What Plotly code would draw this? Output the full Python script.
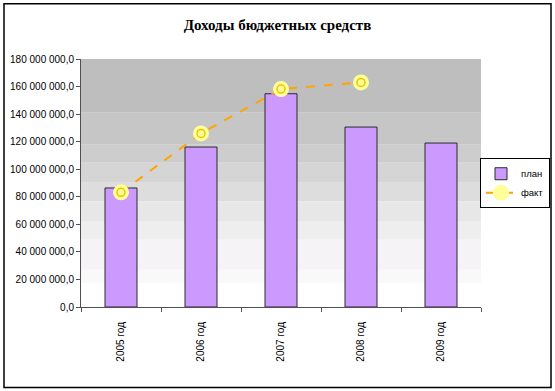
import plotly.graph_objects as go

categories = ["2005 год", "2006 год", "2007 год", "2008 год", "2009 год"]
plan = [86400000, 116100000, 154800000, 130600000, 119000000]
fact_categories = ["2005 год", "2006 год", "2007 год", "2008 год"]
fact = [83200000, 126000000, 158200000, 163000000]
ytick_vals = [0, 20000000, 40000000, 60000000, 80000000, 100000000, 120000000, 140000000, 160000000, 180000000]
ytick_text = ["0,0", "20 000 000,0", "40 000 000,0", "60 000 000,0", "80 000 000,0",
              "100 000 000,0", "120 000 000,0", "140 000 000,0", "160 000 000,0", "180 000 000,0"]

fig = go.Figure()
fig.add_trace(go.Bar(
    x=categories, y=plan, name="план",
    marker=dict(color="#cc99ff", line=dict(color="#2b2b2b", width=1)),
))
fig.add_trace(go.Scatter(
    x=fact_categories, y=fact, name="факт", mode="lines+markers",
    line=dict(color="#ffa500", width=2, dash="dash"),
    marker=dict(size=16, color="#ffff99", line=dict(width=0)),
))
fig.add_trace(go.Scatter(
    x=fact_categories, y=fact, mode="markers", showlegend=False, hoverinfo="skip",
    marker=dict(size=8, symbol="circle-open", color="#f2c200", line=dict(width=1.5, color="#f2c200")),
))

# background gradient bands
edges = [1.0, 0.783, 0.654, 0.582, 0.501, 0.425, 0.344, 0.271, 0.150]
cols = ["#bebebe", "#c5c6c5", "#cdcdcd", "#d5d5d5", "#dddddd", "#e7e7e7", "#efeeef", "#f5f3f5", "#f9f9f9"]
shapes = []
for i, c in enumerate(cols):
    y1 = edges[i]
    y0 = edges[i + 1] if i + 1 < len(edges) else 0.098
    shapes.append(dict(type="rect", xref="x domain", yref="y domain", x0=0, x1=1, y0=y0, y1=y1,
                       fillcolor=c, line=dict(width=0), layer="below"))
# outer chart border
shapes.append(dict(type="rect", xref="paper", yref="paper", x0=-0.1925, x1=1.175, y0=-0.325, y1=1.223,
                   line=dict(color="black", width=1.5), fillcolor="rgba(0,0,0,0)"))

fig.update_layout(
    width=555, height=391,
    margin=dict(l=81, r=74, t=59, b=84, autoexpand=False),
    paper_bgcolor="white", plot_bgcolor="white",
    title=dict(text="<b>Доходы бюджетных средств</b>", x=0.5, xanchor="center", y=0.936, yanchor="middle",
               font=dict(family="Liberation Serif", size=15, color="black")),
    font=dict(family="Liberation Sans", size=10, color="black"),
    bargap=0.6,
    showlegend=True,
    legend=dict(x=0.9975, y=0.499, xanchor="left", yanchor="middle", bordercolor="black", borderwidth=1,
                bgcolor="white", font=dict(size=9.5, family="Liberation Sans"), tracegroupgap=0,
                itemwidth=30),
    shapes=shapes,
)
fig.update_xaxes(type="category", tickangle=-90, showline=True, linecolor="#505050", linewidth=1,
                 ticks="outside", ticklen=4, tickcolor="#505050", tickson="boundaries",
                 showgrid=False, tickfont=dict(size=10), automargin=False, ticklabelstandoff=10)
fig.update_yaxes(range=[0, 180000000], tickvals=ytick_vals, ticktext=ytick_text, showline=True,
                 linecolor="#505050", linewidth=1, ticks="outside", ticklen=4, tickcolor="#505050",
                 showgrid=False, zeroline=False, tickfont=dict(size=10), automargin=False)

fig.write_html("out.html", config={"displayModeBar": False},
               post_script="document.body.style.margin='0';document.body.style.overflow='hidden';")
